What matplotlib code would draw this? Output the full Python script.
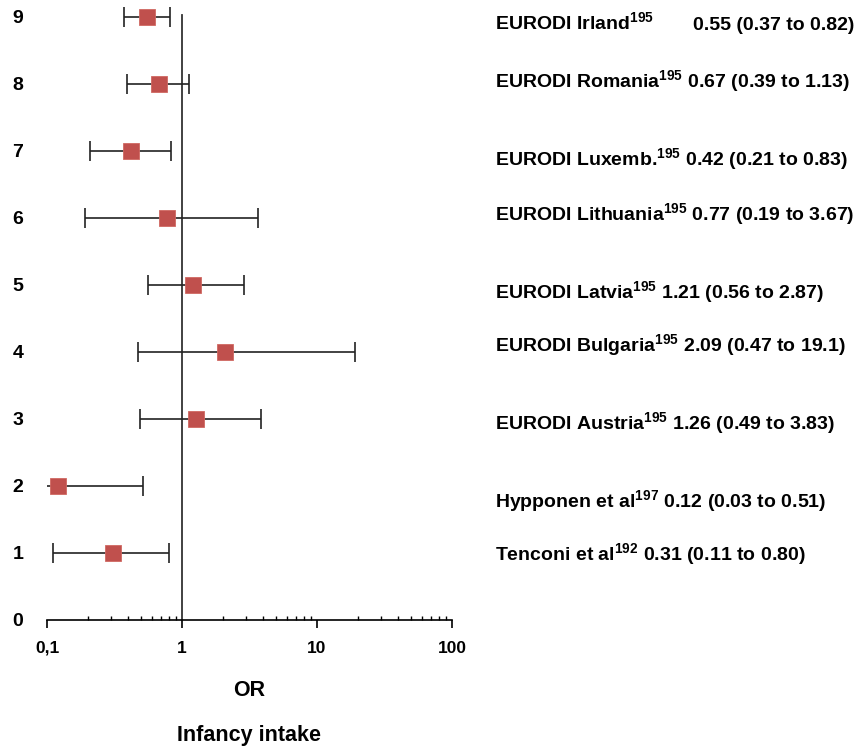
import numpy as np
import matplotlib.pyplot as plt

plt.rcParams['font.family'] = ['Liberation Sans', 'DejaVu Sans']
plt.rcParams['font.weight'] = 'bold'
plt.rcParams['mathtext.fontset'] = 'custom'
plt.rcParams['mathtext.rm'] = 'Liberation Sans:bold'
plt.rcParams['mathtext.bf'] = 'Liberation Sans:bold'

# ---- data (row 1 at bottom, row 9 at top) ----
studies = ["Tenconi et al", "Hypponen et al", "EURODI Austria", "EURODI Bulgaria",
           "EURODI Latvia", "EURODI Lithuania", "EURODI Luxemb.", "EURODI Romania",
           "EURODI Irland"]
refs = ["192", "197", "195", "195", "195", "195", "195", "195", "195"]
odds = [0.31, 0.12, 1.26, 2.09, 1.21, 0.77, 0.42, 0.67, 0.55]
ci_lo = [0.11, 0.03, 0.49, 0.47, 0.56, 0.19, 0.21, 0.39, 0.37]
ci_hi = [0.80, 0.51, 3.83, 19.1, 2.87, 3.67, 0.83, 1.13, 0.82]
ci_txt = ["0.80", "0.51", "3.83", "19.1", "2.87", "3.67", "0.83", "1.13", "0.82"]
rows = np.arange(1, 10)

# label baselines in pixels from the top of the figure (layout only)
label_base_px = [561, 508, 430, 352, 299, 221, 166, 88, 30]

W, H = 857, 750
fig = plt.figure(figsize=(W / 100, H / 100), dpi=100)
ax = fig.add_axes([47 / W, (H - 620) / H, 405 / W, 614 / H])

odds = np.array(odds); ci_lo = np.array(ci_lo); ci_hi = np.array(ci_hi)
xerr = np.vstack([odds - ci_lo, ci_hi - odds])

ax.plot([1, 1], [0, 9.02], color="#333333", lw=1.3, zorder=1)
ax.errorbar(odds, rows, xerr=xerr, fmt="none", ecolor="#222222", elinewidth=1.2,
            capsize=7, capthick=1.2, zorder=2)
ax.plot(odds, rows, "s", color="#C0504D", markersize=11.5, markeredgecolor="#D06862",
        markeredgewidth=0.6, clip_on=False, zorder=3)

ax.set_xscale("log")
ax.set_xlim(0.1, 100)
ax.set_ylim(0, 9.16)
ax.set_xticks([0.1, 1, 10, 100])
ax.set_xticklabels(["0,1", "1", "10", "100"], fontsize=12.5, fontweight="bold")
ax.set_yticks(range(10))
ax.set_yticklabels([str(i) for i in range(10)], fontsize=14, fontweight="bold")
ax.tick_params(axis="y", length=0, pad=17)
ax.tick_params(axis="x", which="major", direction="out", length=6, width=1.2, pad=9)
ax.tick_params(axis="x", which="minor", direction="in", length=3.2, width=1.0)
ax.xaxis.set_minor_formatter(plt.NullFormatter())

for s in ["top", "right", "left"]:
    ax.spines[s].set_visible(False)
ax.spines["bottom"].set_linewidth(1.2)
ax.patch.set_visible(False)

fig.text(249 / W, 1 - 690 / H, "OR", ha="center", va="center", fontsize=15.5, fontweight="bold")
fig.text(249 / W, 1 - 735 / H, "Infancy intake", ha="center", va="center",
         fontsize=15.5, fontweight="bold")

for i in range(len(studies)):
    name = f"{studies[i]}$^{{{refs[i]}}}$"
    val = f"{odds[i]:.2f} ({ci_lo[i]:.2f} to {ci_txt[i]})"
    yb = 1 - label_base_px[i] / H
    if studies[i] == "EURODI Irland":
        fig.text(495 / W, yb, name, ha="left", va="baseline", fontsize=14, fontweight="bold")
        fig.text(693 / W, yb, val, ha="left", va="baseline", fontsize=14, fontweight="bold")
    else:
        fig.text(495 / W, yb, name + " " + val, ha="left", va="baseline",
                 fontsize=14, fontweight="bold")

fig.savefig("out.png", dpi=100)
